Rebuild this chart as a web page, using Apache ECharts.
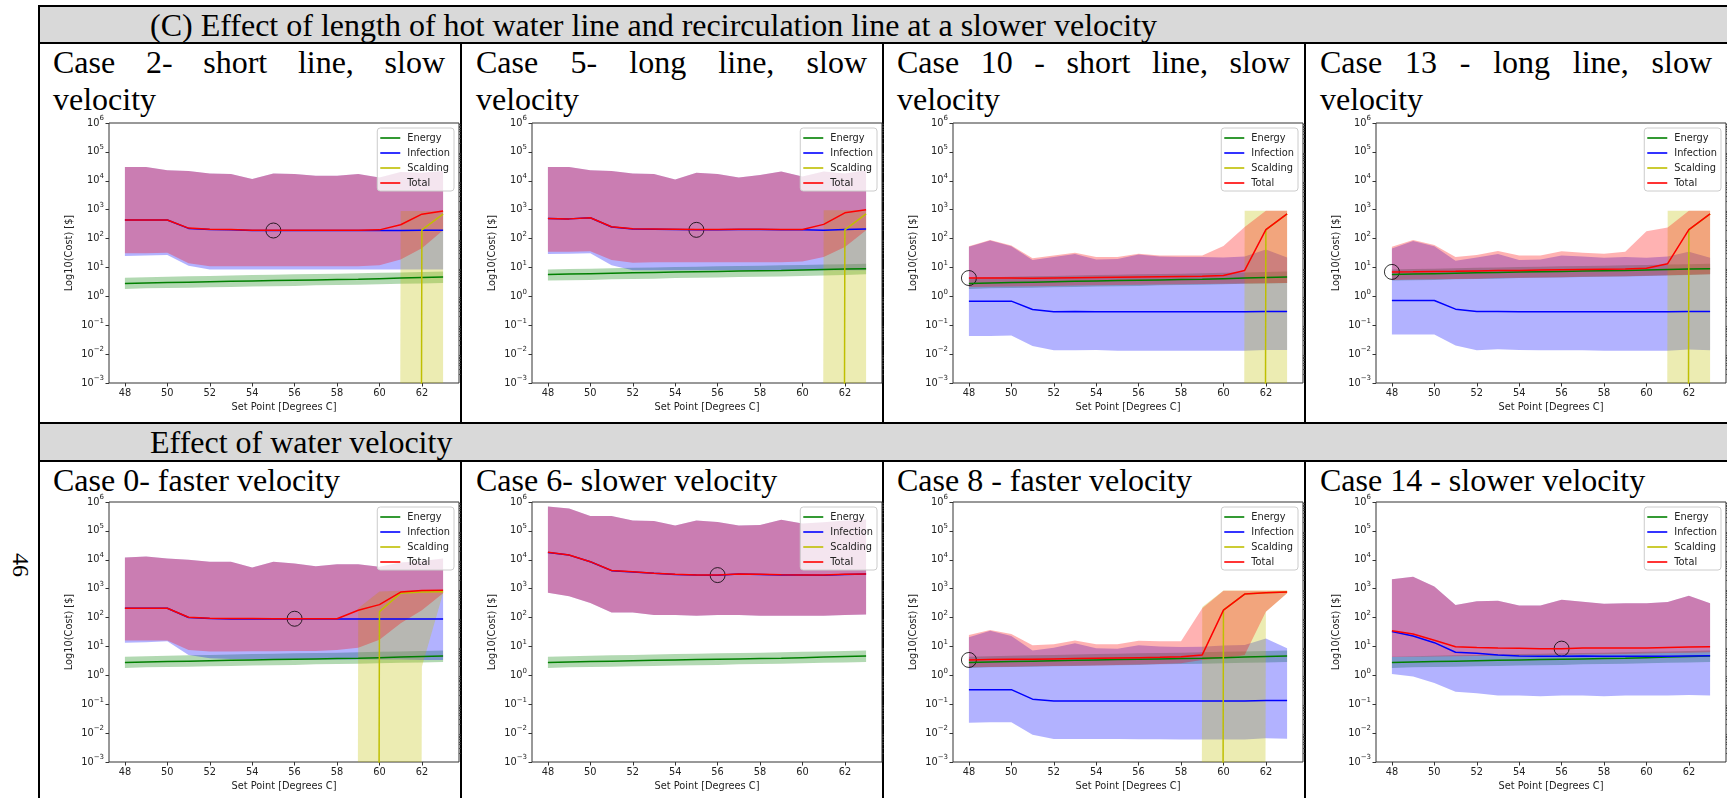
<!DOCTYPE html>
<html>
<head>
<meta charset="utf-8">
<title>Effect of line length and water velocity</title>
<script src="https://cdn.jsdelivr.net/npm/echarts@6/dist/echarts.min.js"></script>
<style>
  html, body { margin: 0; padding: 0; background: #fff; }
  #page { position: relative; width: 1727px; height: 798px; overflow: hidden; background: #fff; }
  .rule { position: absolute; background: #000; }
  .shade { position: absolute; background: #d9d9d9; }
  .serif { position: absolute; font-family: "Liberation Serif", "Times New Roman", serif; font-size: 32px; line-height: 37px; color: #000; }
  .head { white-space: nowrap; }
  .cell { text-align: justify; text-align-last: left; }
  #pageno { left: 9px; top: 552px; width: 24px; height: 26px; font-size: 24px; line-height: 26px; transform: rotate(90deg); }
  #chart { position: absolute; left: 0; top: 0; width: 1727px; height: 798px; }
</style>
</head>
<body>
<div id="page">
  <div class="shade" style="left:40px;top:7px;width:1687px;height:35px"></div>
  <div class="shade" style="left:40px;top:424px;width:1687px;height:36px"></div>

  <div class="rule" style="left:38px;top:5px;width:1689px;height:2px"></div>
  <div class="rule" style="left:38px;top:42px;width:1689px;height:2px"></div>
  <div class="rule" style="left:38px;top:422px;width:1689px;height:2px"></div>
  <div class="rule" style="left:38px;top:460px;width:1689px;height:2px"></div>
  <div class="rule" style="left:38px;top:5px;width:2px;height:793px"></div>
  <div class="rule" style="left:460px;top:44px;width:2px;height:378px"></div>
  <div class="rule" style="left:882px;top:44px;width:2px;height:378px"></div>
  <div class="rule" style="left:1304px;top:44px;width:2px;height:378px"></div>
  <div class="rule" style="left:460px;top:462px;width:2px;height:336px"></div>
  <div class="rule" style="left:882px;top:462px;width:2px;height:336px"></div>
  <div class="rule" style="left:1304px;top:462px;width:2px;height:336px"></div>

  <div class="serif head" style="left:150px;top:7px">(C) Effect of length of hot water line and recirculation line at a slower velocity</div>
  <div class="serif head" style="left:150px;top:424px">Effect of water velocity</div>

  <div class="serif cell" style="left:53px;top:44px;width:392px">Case 2- short line, slow velocity</div>
  <div class="serif cell" style="left:476px;top:44px;width:391px">Case 5- long line, slow velocity</div>
  <div class="serif cell" style="left:897px;top:44px;width:393px">Case 10 - short line, slow velocity</div>
  <div class="serif cell" style="left:1320px;top:44px;width:392px">Case 13 - long line, slow velocity</div>

  <div class="serif cell" style="left:53px;top:462px;width:392px">Case 0- faster velocity</div>
  <div class="serif cell" style="left:476px;top:462px;width:391px">Case 6- slower velocity</div>
  <div class="serif cell" style="left:897px;top:462px;width:393px">Case 8 - faster velocity</div>
  <div class="serif cell" style="left:1320px;top:462px;width:392px">Case 14 - slower velocity</div>

  <div class="serif" id="pageno">46</div>

  <div id="chart"></div>
</div>
<script>
// set points on the x axis, shared by every panel
const setPoints = [48, 49, 50, 51, 52, 53, 54, 55, 56, 57, 58, 59, 60, 61, 62, 63];
const xTickValues = [48, 50, 52, 54, 56, 58, 60, 62];
const yTickValues = [0.001, 0.01, 0.1, 1, 10, 100, 1000, 10000, 100000, 1000000];
const legendNames = ["Energy", "Infection", "Scalding", "Total"];

const noCost = [0, 0, 0, 0, 0, 0, 0, 0, 0, 0, 0, 0, 0, 0, 0, 0];

// energy cost, short line cases
const energyShort = [2.8, 2.9, 3.0, 3.1, 3.2, 3.3, 3.4, 3.5, 3.6, 3.7, 3.8, 3.9, 4.1, 4.3, 4.5, 4.7];
const energyShortLo = [1.8, 1.9, 1.95, 2.0, 2.05, 2.1, 2.2, 2.25, 2.3, 2.4, 2.45, 2.5, 2.6, 2.7, 2.8, 2.9];
const energyShortHi = [4.4, 4.6, 4.8, 5.0, 5.1, 5.3, 5.5, 5.6, 5.8, 5.9, 6.1, 6.3, 6.5, 6.7, 7.0, 7.2];
// energy cost, long line cases
const energyLong = [5.7, 5.9, 6.1, 6.3, 6.5, 6.7, 6.9, 7.1, 7.3, 7.5, 7.7, 7.9, 8.2, 8.5, 8.8, 9.1];
const energyLongLo = [3.5, 3.6, 3.7, 3.9, 4.0, 4.1, 4.3, 4.4, 4.5, 4.7, 4.8, 4.9, 5.1, 5.3, 5.5, 5.8];
const energyLongHi = [8.5, 8.8, 9.1, 9.4, 9.7, 10.0, 10.3, 10.6, 10.9, 11.2, 11.5, 11.8, 12.2, 12.6, 13.0, 13.5];

// Case 2
const case2Infection = [440, 440, 440, 225, 205, 200, 190, 190, 190, 190, 190, 190, 190, 190, 192, 195];
const case2InfectionLo = [25, 26, 27, 11.5, 8.5, 8.5, 8.5, 8.5, 8.5, 8.5, 8.5, 8.5, 8.5, 8.5, 8.5, 8.5];
const case2InfectionHi = [30000, 30000, 23000, 22000, 18000, 17000, 11500, 18000, 17000, 15000, 15000, 17000, 13000, 20000, 19000, 22000];
const case2Scalding = [0, 0, 0, 0, 0, 0, 0, 0, 0, 0, 0, 0, 0, 0, 200, 700];
const case2ScaldingHi = [0, 0, 0, 0, 0, 0, 0, 0, 0, 0, 0, 0, 0, 900, 900, 900];
const case2Total = [440, 440, 440, 230, 210, 205, 195, 195, 195, 195, 195, 195, 200, 300, 700, 900];
const case2TotalLo = [31, 31, 32, 14, 11, 11, 11, 11, 11, 11, 11, 11, 12, 19, 46, 195];
const case2Optimum = [55, 190];

// Case 5
const case5Infection = [490, 480, 525, 250, 213, 210, 205, 200, 200, 205, 205, 200, 200, 195, 205, 213];
const case5InfectionLo = [29, 30, 31, 12, 8, 8, 8, 8, 8, 8, 8, 8, 8, 8, 8, 8];
const case5InfectionHi = [30000, 30000, 23000, 22000, 18000, 17000, 11000, 19000, 17000, 13000, 16000, 21000, 14000, 21000, 18000, 23000];
const case5Scalding = [0, 0, 0, 0, 0, 0, 0, 0, 0, 0, 0, 0, 0, 0, 200, 720];
const case5ScaldingHi = [0, 0, 0, 0, 0, 0, 0, 0, 0, 0, 0, 0, 0, 950, 950, 950];
const case5Total = [490, 480, 525, 255, 218, 215, 210, 205, 205, 210, 210, 205, 205, 310, 780, 1000];
const case5TotalLo = [35, 35, 36, 18, 14.5, 15, 15, 15, 15, 15, 15, 15, 16, 23, 51, 195];
const case5Optimum = [55, 200];

// Case 10
const case10Infection = [0.68, 0.68, 0.68, 0.35, 0.29, 0.30, 0.29, 0.29, 0.29, 0.29, 0.29, 0.29, 0.29, 0.29, 0.30, 0.30];
const case10InfectionLo = [0.042, 0.042, 0.044, 0.019, 0.0135, 0.0135, 0.014, 0.013, 0.013, 0.013, 0.013, 0.013, 0.013, 0.013, 0.014, 0.014];
const case10InfectionHi = [52, 85, 54, 18, 23, 29, 19, 19.5, 28, 24, 23, 23, 22, 24, 42, 22];
const case10Scalding = [0, 0, 0, 0, 0, 0, 0, 0, 0, 0, 0, 0, 0, 0, 200, 720];
const case10ScaldingHi = [0, 0, 0, 0, 0, 0, 0, 0, 0, 0, 0, 0, 0, 910, 910, 910];
const case10Total = [4.3, 4.3, 4.3, 4.2, 4.3, 4.4, 4.5, 4.6, 4.7, 4.8, 4.9, 5.0, 5.3, 7.9, 205, 720];
const case10TotalLo = [2.1, 2.15, 2.2, 2.25, 2.3, 2.35, 2.4, 2.45, 2.5, 2.55, 2.6, 2.65, 2.7, 2.8, 2.85, 2.9];
const case10TotalHi = [54, 90, 58, 21, 26, 32, 23, 23, 30, 26, 26, 26, 55, 250, 910, 910];
const case10Optimum = [48, 4.3];

// Case 13
const case13Infection = [0.72, 0.72, 0.72, 0.36, 0.30, 0.30, 0.29, 0.29, 0.29, 0.29, 0.29, 0.29, 0.29, 0.29, 0.30, 0.30];
const case13InfectionLo = [0.048, 0.048, 0.048, 0.020, 0.0136, 0.0147, 0.014, 0.0135, 0.0135, 0.0135, 0.013, 0.013, 0.013, 0.013, 0.0145, 0.0136];
const case13InfectionHi = [45, 83, 54, 17, 22, 29, 18, 19, 26, 24, 21.5, 23, 21.5, 24, 35, 21.5];
const case13Scalding = [0, 0, 0, 0, 0, 0, 0, 0, 0, 0, 0, 0, 0, 0, 200, 720];
const case13ScaldingHi = [0, 0, 0, 0, 0, 0, 0, 0, 0, 0, 0, 0, 0, 910, 910, 910];
const case13Total = [7.0, 7.1, 7.3, 7.4, 7.6, 7.8, 7.9, 8.1, 8.3, 8.5, 8.7, 8.9, 9.3, 13.5, 205, 720];
const case13TotalLo = [3.7, 3.8, 3.9, 4.0, 4.1, 4.3, 4.4, 4.5, 4.6, 4.8, 4.9, 5.0, 5.2, 5.4, 5.6, 5.8];
const case13TotalHi = [52, 90, 60, 23, 27, 37, 26, 26, 36, 32, 30, 35, 180, 240, 910, 910];
const case13Optimum = [48, 7.0];

// Case 0
const case0Infection = [210, 210, 210, 100, 92, 90, 90, 89, 89, 89, 89, 89, 89, 89, 90, 90];
const case0InfectionLo = [13.5, 14, 15, 5.1, 3.9, 3.7, 3.6, 3.6, 3.5, 3.5, 3.5, 3.5, 3.5, 3.5, 3.4, 3.4];
const case0InfectionHi = [12000, 13000, 11000, 10000, 8600, 8600, 5400, 8600, 7500, 6000, 7000, 7000, 5700, 8000, 9000, 11000];
const case0Scalding = [0, 0, 0, 0, 0, 0, 0, 0, 0, 0, 0, 0, 160, 700, 760, 780];
const case0ScaldingLo = [0, 0, 0, 0, 0, 0, 0, 0, 0, 0, 0, 0, 0, 0, 2, 700];
const case0ScaldingHi = [0, 0, 0, 0, 0, 0, 0, 0, 0, 0, 0, 210, 800, 850, 880, 900];
const case0Total = [210, 210, 210, 102, 94, 92, 92, 91, 91, 91, 91, 180, 280, 760, 870, 890];
const case0TotalLo = [16, 16, 16, 7.6, 6.7, 6.7, 6.8, 6.8, 6.9, 7.0, 7.5, 9, 17, 63, 180, 700];
const case0Optimum = [56, 91];

// Case 6
const case6Infection = [18000, 14500, 8500, 4200, 3800, 3400, 3100, 2950, 2900, 3200, 3100, 3000, 2950, 2900, 3100, 3200];
const case6InfectionLo = [720, 550, 320, 150, 150, 122, 122, 115, 122, 122, 115, 115, 115, 115, 122, 128];
const case6InfectionHi = [700000, 590000, 330000, 330000, 230000, 220000, 155000, 230000, 205000, 155000, 160000, 245000, 180000, 200000, 230000, 250000];
const case6Total = [18200, 14600, 8600, 4250, 3850, 3450, 3150, 3000, 2950, 3250, 3150, 3050, 3000, 2950, 3150, 3250];
const case6Optimum = [56, 2950];

// Case 8
const case8Infection = [0.32, 0.32, 0.32, 0.15, 0.13, 0.13, 0.13, 0.13, 0.13, 0.13, 0.13, 0.13, 0.13, 0.13, 0.135, 0.135];
const case8InfectionLo = [0.023, 0.024, 0.024, 0.0087, 0.0063, 0.0063, 0.0063, 0.0062, 0.0061, 0.0061, 0.006, 0.006, 0.006, 0.006, 0.0066, 0.0064];
const case8InfectionHi = [21, 35, 23, 7.2, 9.1, 13, 8.7, 8.3, 11, 10, 9.5, 9.8, 10.7, 11.2, 19, 8.7];
const case8Scalding = [0, 0, 0, 0, 0, 0, 0, 0, 0, 0, 0, 0, 180, 650, 720, 760];
const case8ScaldingLo = [0, 0, 0, 0, 0, 0, 0, 0, 0, 0, 0, 0, 0, 0, 160, 690];
const case8ScaldingHi = [0, 0, 0, 0, 0, 0, 0, 0, 0, 0, 0, 230, 860, 860, 860, 860];
const case8Total = [3.4, 3.5, 3.6, 3.6, 3.7, 3.8, 3.9, 4.0, 4.1, 4.2, 4.4, 5.1, 180, 650, 720, 760];
const case8TotalLo = [1.9, 1.95, 2.0, 2.05, 2.1, 2.15, 2.2, 2.3, 2.35, 2.45, 2.6, 3.4, 3.9, 5.1, 160, 690];
const case8TotalHi = [25, 37, 27, 11, 12, 16, 12, 12, 15.6, 15, 15, 210, 840, 840, 840, 840];
const case8Optimum = [48, 3.4];

// Case 14
const case14Infection = [33, 23, 13.5, 6.3, 5.8, 5.1, 4.7, 4.6, 4.6, 4.7, 4.6, 4.6, 4.6, 4.6, 4.7, 4.8];
const case14InfectionLo = [1.12, 0.91, 0.54, 0.27, 0.24, 0.2, 0.2, 0.19, 0.2, 0.2, 0.19, 0.2, 0.2, 0.2, 0.21, 0.2];
const case14InfectionHi = [2100, 2600, 1200, 270, 370, 380, 260, 260, 410, 350, 300, 310, 310, 345, 570, 310];
const case14Total = [35, 27, 16.5, 9.8, 9.2, 8.8, 8.6, 8.4, 8.4, 8.9, 8.9, 8.9, 8.9, 9.2, 9.5, 9.8];
const case14TotalLo = [4.3, 4.4, 4.5, 4.6, 4.7, 4.8, 4.9, 5.0, 5.1, 5.3, 5.4, 5.5, 5.7, 5.9, 6.1, 6.3];
const case14Optimum = [56, 8.4];

const panels = [
  { row: 0, col: 0, energy: energyShort, energyLo: energyShortLo, energyHi: energyShortHi,
    inf: case2Infection, infLo: case2InfectionLo, infHi: case2InfectionHi,
    scald: case2Scalding, scaldLo: noCost, scaldHi: case2ScaldingHi,
    total: case2Total, totalLo: case2TotalLo, totalHi: case2InfectionHi, opt: case2Optimum },
  { row: 0, col: 1, energy: energyLong, energyLo: energyLongLo, energyHi: energyLongHi,
    inf: case5Infection, infLo: case5InfectionLo, infHi: case5InfectionHi,
    scald: case5Scalding, scaldLo: noCost, scaldHi: case5ScaldingHi,
    total: case5Total, totalLo: case5TotalLo, totalHi: case5InfectionHi, opt: case5Optimum },
  { row: 0, col: 2, energy: energyShort, energyLo: energyShortLo, energyHi: energyShortHi,
    inf: case10Infection, infLo: case10InfectionLo, infHi: case10InfectionHi,
    scald: case10Scalding, scaldLo: noCost, scaldHi: case10ScaldingHi,
    total: case10Total, totalLo: case10TotalLo, totalHi: case10TotalHi, opt: case10Optimum },
  { row: 0, col: 3, energy: energyLong, energyLo: energyLongLo, energyHi: energyLongHi,
    inf: case13Infection, infLo: case13InfectionLo, infHi: case13InfectionHi,
    scald: case13Scalding, scaldLo: noCost, scaldHi: case13ScaldingHi,
    total: case13Total, totalLo: case13TotalLo, totalHi: case13TotalHi, opt: case13Optimum },
  { row: 1, col: 0, energy: energyShort, energyLo: energyShortLo, energyHi: energyShortHi,
    inf: case0Infection, infLo: case0InfectionLo, infHi: case0InfectionHi,
    scald: case0Scalding, scaldLo: case0ScaldingLo, scaldHi: case0ScaldingHi,
    total: case0Total, totalLo: case0TotalLo, totalHi: case0InfectionHi, opt: case0Optimum },
  { row: 1, col: 1, energy: energyShort, energyLo: energyShortLo, energyHi: energyShortHi,
    inf: case6Infection, infLo: case6InfectionLo, infHi: case6InfectionHi,
    scald: noCost, scaldLo: noCost, scaldHi: noCost,
    total: case6Total, totalLo: case6InfectionLo, totalHi: case6InfectionHi, opt: case6Optimum },
  { row: 1, col: 2, energy: energyShort, energyLo: energyShortLo, energyHi: energyShortHi,
    inf: case8Infection, infLo: case8InfectionLo, infHi: case8InfectionHi,
    scald: case8Scalding, scaldLo: case8ScaldingLo, scaldHi: case8ScaldingHi,
    total: case8Total, totalLo: case8TotalLo, totalHi: case8TotalHi, opt: case8Optimum },
  { row: 1, col: 3, energy: energyShort, energyLo: energyShortLo, energyHi: energyShortHi,
    inf: case14Infection, infLo: case14InfectionLo, infHi: case14InfectionHi,
    scald: noCost, scaldLo: noCost, scaldHi: noCost,
    total: case14Total, totalLo: case14TotalLo, totalHi: case14InfectionHi, opt: case14Optimum },
];

const W = 1727;
const colLefts = [109, 532, 953, 1376];
const rowTops = [123, 502];
const plotW = 350;
const plotH = 260;
const font = "DejaVu Sans";
const ink = "#222";
const colors = { Energy: "#008000", Infection: "#0000ff", Scalding: "#bfbf00", Total: "#ff0000" };

// values <= 0 are pushed far below the axis, as matplotlib does on a log scale
const FLOOR = 1e-300;
const clipLog = (v) => (v > 0 ? v : FLOOR);

const minorTicks = [];
for (let i = 0; i < yTickValues.length - 1; i++) {
  for (let m = 2; m <= 9; m++) minorTicks.push(m * yTickValues[i]);
}

const powLabel = (v) => {
  const e = Math.round(Math.log10(v));
  return "{b|10}{s|" + (e < 0 ? "\u2212" + -e : e) + "}";
};

const grids = [], xAxes = [], yAxes = [], legends = [], series = [];

panels.forEach((p, i) => {
  const left = colLefts[p.col];
  const top = rowTops[p.row];
  grids.push({ left, top, width: plotW, height: plotH, show: true, borderColor: "#333", borderWidth: 1 });

  xAxes.push({
    type: "value", gridIndex: i, min: 47.25, max: 63.75,
    axisLine: { show: false }, splitLine: { show: false },
    axisTick: { customValues: xTickValues, length: 3.5, lineStyle: { color: "#333" } },
    axisLabel: { customValues: xTickValues, margin: 5, fontSize: 9.8, fontFamily: font, color: ink },
    name: "Set Point [Degrees C]", nameLocation: "middle", nameGap: 19,
    nameTextStyle: { fontSize: 9.8, fontFamily: font, color: ink },
  });

  yAxes.push({
    type: "log", logBase: 10, gridIndex: i, min: 0.001, max: 1000000,
    axisLine: { show: false }, splitLine: { show: false },
    axisTick: { customValues: yTickValues, length: 3.5, lineStyle: { color: "#333" } },
    axisLabel: {
      customValues: yTickValues, margin: 5, formatter: powLabel,
      rich: {
        b: { fontSize: 9.8, fontFamily: font, color: ink },
        s: { fontSize: 7, fontFamily: font, color: ink, padding: [0, 0, 9, 0] },
      },
    },
    name: "Log10(Cost) [$]", nameLocation: "middle", nameGap: 35,
    nameTextStyle: { fontSize: 9.8, fontFamily: font, color: ink },
  });
  yAxes.push({
    type: "log", logBase: 10, gridIndex: i, min: 0.001, max: 1000000,
    axisLine: { show: false }, splitLine: { show: false }, axisLabel: { show: false },
    axisTick: { customValues: minorTicks, length: 2, lineStyle: { color: "#333", width: 0.8 } },
  });

  legends.push({
    data: legendNames, orient: "vertical",
    right: W - (left + plotW - 5), top: top + 5,
    icon: "rect", itemWidth: 20, itemHeight: 1.6, itemGap: 5,
    padding: [5, 4, 3, 3],
    backgroundColor: "rgba(255,255,255,0.8)", borderColor: "#cccccc", borderWidth: 1, borderRadius: 3,
    textStyle: { fontSize: 9.8, fontFamily: font, color: ink, lineHeight: 10, padding: [0, 0, 0, 2] },
    selectedMode: false,
  });

  const pairs = (arr) => setPoints.map((x, k) => [x, clipLog(arr[k])]);

  // a filled band between lo and hi, drawn as one polygon through the axes' own scales
  const band = (key, lo, hi) => {
    series.push({
      type: "custom", xAxisIndex: i, yAxisIndex: 2 * i, silent: true, clip: true,
      data: setPoints.map((x, k) => [x, clipLog(lo[k]), clipLog(hi[k])]),
      encode: { x: 0, y: [1, 2] },
      renderItem: (params, api) => {
        if (params.dataIndex !== 0) return null;
        const upper = [], lower = [];
        for (let k = 0; k < setPoints.length; k++) {
          upper.push(api.coord([setPoints[k], clipLog(hi[k])]));
          lower.push(api.coord([setPoints[k], clipLog(lo[k])]));
        }
        return {
          type: "polygon",
          shape: { points: upper.concat(lower.reverse()) },
          style: { fill: colors[key], opacity: 0.3 },
        };
      },
    });
  };
  band("Energy", p.energyLo, p.energyHi);
  band("Infection", p.infLo, p.infHi);
  band("Scalding", p.scaldLo, p.scaldHi);
  band("Total", p.totalLo, p.totalHi);

  [["Energy", p.energy], ["Infection", p.inf], ["Scalding", p.scald], ["Total", p.total]].forEach(([name, arr]) => {
    series.push({
      type: "line", name, xAxisIndex: i, yAxisIndex: 2 * i, data: pairs(arr),
      symbol: "none", silent: true,
      itemStyle: { color: colors[name] },
      lineStyle: { color: colors[name], width: 1.5 },
    });
  });

  series.push({
    type: "scatter", xAxisIndex: i, yAxisIndex: 2 * i, data: [p.opt],
    symbol: "circle", symbolSize: 15, silent: true,
    itemStyle: { color: "rgba(0,0,0,0)", borderColor: "#000", borderWidth: 1 },
  });
});

const chart = echarts.init(document.getElementById("chart"), null, { renderer: "canvas" });
chart.setOption({
  animation: false,
  grid: grids,
  xAxis: xAxes,
  yAxis: yAxes,
  legend: legends,
  series,
});
</script>
</body>
</html>
